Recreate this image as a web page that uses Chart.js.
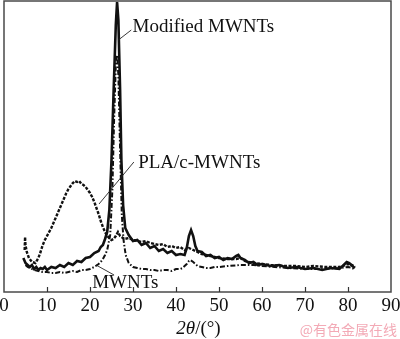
<!DOCTYPE html>
<html>
<head>
<meta charset="utf-8">
<script src="https://cdn.jsdelivr.net/npm/chart.js@4"></script>
<style>
  html, body { margin: 0; padding: 0; background: #fff; }
</style>
</head>
<body>
<canvas id="xrd" width="400" height="339"></canvas>
<script>
// XRD patterns: diffraction angle 2θ (°) and intensity (a.u.)
const seriesNames = ['Modified MWNTs', 'PLA/c-MWNTs', 'MWNTs'];

const modAngle = [4.5,5,5.5,6,6.5,7,7.5,8,8.5,9,9.5,10,11,12,13,14,15,16,17,18,19,20,21,22,22.5,23,23.5,24,24.5,25,25.5,26,26.3,26.6,27,27.3,27.7,28.2,29,30,31,32,33,34,35,36,37,38,39,40,41,42,42.5,43,43.5,44,44.5,45,46,47,48,49,50,51,52,53,54,54.5,55,56,57,58,59,60,62,64,66,68,70,72,74,76,78,79,79.7,80.3,81,81.6];
const modInt = [34,29,27,25,27,23,25,22,24,23,25,22,25,24,27,25,29,27,31,30,34,35,39,41,45,47,53,60,82,132,202,267,290,272,202,132,87,64,57,51,52,47,49,44,46,41,43,39,41,37,38,37,44,56,62,56,46,41,40,36,37,34,35,32,34,33,36,37,34,32,29,30,27,28,26,27,24,25,23,24,22,24,23,27,30,29,26,24];

const plaAngle = [4.8,4.9,5,5.3,5.8,6.5,7.3,8,8.5,9,9.5,10,10.5,11,11.5,12,12.5,13,13.5,14,14.5,15,15.5,16,16.5,17,17.5,18,18.5,19,19.5,20,20.5,21,21.5,22,22.5,23,23.5,24,24.5,25,25.5,26,26.5,27,28,29,30,31,32,33,34,35,36,37,38,39,40,41,42,43,44,45,46,47,48,50,52,54,55,56,58,60,62,65,68,70,72,75,78,80,81,81.6];
const plaInt = [42,55,47,40,34,30,29,34,40,47,52,56,60,64,69,74,79,84,89,94,99,103,106,109,111,110,111,108,107,105,102,99,95,90,84,78,71,65,60,56,54,52,53,56,60,56,53,54,52,51,50,51,49,48,47,48,45,46,44,45,42,44,42,40,38,37,36,34,33,33,34,31,29,28,27,26,26,25,26,25,25,28,27,25];

const mwAngle = [5,5.5,6,7,8,9,10,11,12,13,14,15,16,17,18,19,20,21,22,22.5,23,23.5,24,24.7,25.2,25.6,26,26.3,26.6,27,27.4,27.8,28.3,29,30,31,32,33,34,35,36,37,38,39,40,41,41.5,42,42.5,43,43.3,44,45,46,47,48,49,50,52,55,58,60,63,66,70,74,78,80,81,81.6];
const mwInt = [27,25,24,22,21,20,20,19,19,20,19,20,21,20,22,22,23,25,28,30,33,37,42,57,102,172,227,237,217,142,77,52,37,29,25,24,23,23,22,22,21,22,22,21,23,23,24,26,28,31,32,30,26,25,24,24,25,25,26,27,27,26,25,24,23,23,24,25,24,22];

const xTicks = [0,10,20,30,40,50,60,70,80,90];

const SERIF = '"Liberation Serif", "Times New Roman", serif';

function pts(xs, ys) { return xs.map((x, i) => ({ x: x, y: ys[i] })); }

// Frame, inward ticks, curve labels, axis title
const decorations = {
  id: 'decorations',
  afterDraw(chart) {
    const ctx = chart.ctx;
    const xs = chart.scales.x, ys = chart.scales.y;
    const a = chart.chartArea;
    ctx.save();
    ctx.strokeStyle = '#4a4a4a';
    ctx.lineWidth = 1.5;
    ctx.strokeRect(a.left, a.top, a.right - a.left, a.bottom - a.top);

    ctx.strokeStyle = '#333';
    ctx.lineWidth = 1.2;
    xTicks.slice(1, -1).forEach(v => {
      const px = Math.round(xs.getPixelForValue(v)) + 0.5;
      ctx.beginPath();
      ctx.moveTo(px, a.bottom);
      ctx.lineTo(px, a.bottom - 5);
      ctx.stroke();
    });

    // curve labels with leader lines (data coordinates)
    const labels = [
      { text: seriesNames[0], at: [29.9, 265], from: [29.6, 262], to: [26.6, 252] },
      { text: seriesNames[1], at: [31.2, 129], from: [30.2, 130], to: [22.1, 88] },
      { text: seriesNames[2], at: [20.5, 9],   from: [25.6, 17],  to: [21.4, 27] }
    ];
    ctx.fillStyle = '#111';
    ctx.font = '19px ' + SERIF;
    ctx.textBaseline = 'middle';
    ctx.textAlign = 'left';
    ctx.lineWidth = 0.9;
    ctx.strokeStyle = '#222';
    labels.forEach(l => {
      ctx.beginPath();
      ctx.moveTo(xs.getPixelForValue(l.from[0]), ys.getPixelForValue(l.from[1]));
      ctx.lineTo(xs.getPixelForValue(l.to[0]), ys.getPixelForValue(l.to[1]));
      ctx.stroke();
      ctx.fillText(l.text, xs.getPixelForValue(l.at[0]), ys.getPixelForValue(l.at[1]));
    });

    // axis title: italic 2θ followed by upright /(°)
    const t1 = '2θ', t2 = '/(°)';
    ctx.font = 'italic 19px ' + SERIF;
    const w1 = ctx.measureText(t1).width;
    ctx.font = '19px ' + SERIF;
    const w2 = ctx.measureText(t2).width;
    const cx = (a.left + a.right) / 2 + 1;
    const x0 = cx - (w1 + w2) / 2;
    const ty = 329;
    ctx.font = 'italic 19px ' + SERIF;
    ctx.fillText(t1, x0, ty);
    ctx.font = '19px ' + SERIF;
    ctx.fillText(t2, x0 + w1, ty);

    // source mark
    ctx.font = '14px "Noto Sans CJK SC", sans-serif';
    ctx.fillStyle = '#f3aab6';
    ctx.textAlign = 'right';
    ctx.fillText('@有色金属在线', 397, 330);
    ctx.restore();
  }
};

new Chart(document.getElementById('xrd'), {
  type: 'line',
  data: {
    datasets: [
      {
        label: seriesNames[0],
        data: pts(modAngle, modInt),
        borderColor: '#111',
        borderWidth: 2.6,
        pointRadius: 0,
        tension: 0
      },
      {
        label: seriesNames[1],
        data: pts(plaAngle, plaInt),
        borderColor: '#111',
        borderWidth: 2.4,
        borderDash: [3, 1.5],
        pointRadius: 0,
        tension: 0
      },
      {
        label: seriesNames[2],
        data: pts(mwAngle, mwInt),
        borderColor: '#111',
        borderWidth: 2,
        borderDash: [5, 2, 1.5, 2],
        pointRadius: 0,
        tension: 0
      }
    ]
  },
  options: {
    responsive: false,
    animation: false,
    layout: { padding: { left: 4, right: 9, top: 1, bottom: 0 } },
    plugins: { legend: { display: false }, tooltip: { enabled: false } },
    scales: {
      x: {
        type: 'linear',
        min: 0,
        max: 90,
        afterBuildTicks(s) { s.ticks = xTicks.map(v => ({ value: v })); },
        afterFit(s) { s.height = 47; s.paddingLeft = 0; s.paddingRight = 0; },
        ticks: {
          color: '#111',
          font: { family: SERIF, size: 19 },
          padding: 3,
          maxRotation: 0,
          autoSkip: false
        },
        grid: { display: false, drawTicks: false },
        border: { display: false }
      },
      y: { display: false, min: 0, max: 291 }
    }
  },
  plugins: [decorations]
});
</script>
</body>
</html>
